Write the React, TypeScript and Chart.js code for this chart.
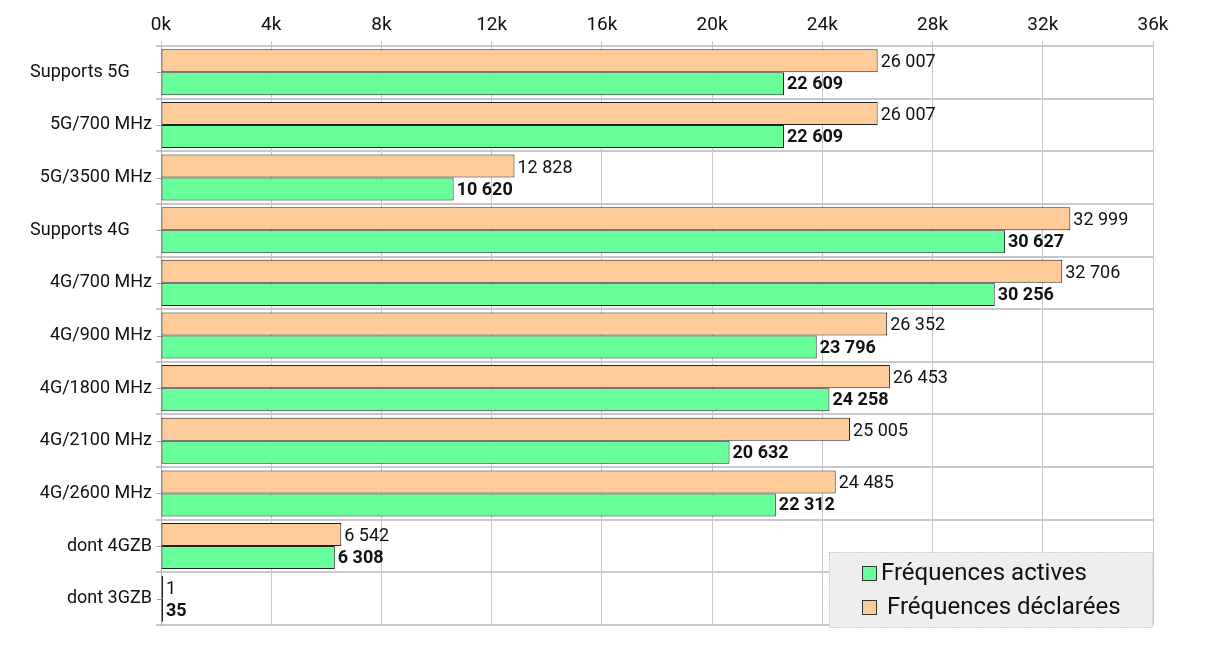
import React, { useEffect, useRef } from "react";
import { Chart, registerables } from "chart.js";

Chart.register(...registerables);

const categories = [
  "Supports 5G     ",
  "5G/700 MHz",
  "5G/3500 MHz",
  "Supports 4G     ",
  "4G/700 MHz",
  "4G/900 MHz",
  "4G/1800 MHz",
  "4G/2100 MHz",
  "4G/2600 MHz",
  "dont 4GZB",
  "dont 3GZB",
];

const declaredValues = [26007, 26007, 12828, 32999, 32706, 26352, 26453, 25005, 24485, 6542, 1];
const activeValues = [22609, 22609, 10620, 30627, 30256, 23796, 24258, 20632, 22312, 6308, 35];

const activeLabel = "Fréquences actives";
const declaredLabel = "Fréquences déclarées";

const xMin = 0;
const xMax = 36000;
const xStep = 4000;

const GREEN = "#66ff99";
const ORANGE = "#ffcc99";
const FONT = "Roboto, 'Noto Sans', sans-serif";

function fmt(v: number): string {
  return String(v).replace(/\B(?=(\d{3})+(?!\d))/g, " ");
}

const valueLabelsPlugin = {
  id: "valueLabels",
  afterDatasetsDraw(chart: any) {
    const ctx = chart.ctx;
    ctx.save();
    chart.data.datasets.forEach((ds: any, di: number) => {
      const meta = chart.getDatasetMeta(di);
      const bold = di === 1;
      ctx.font = (bold ? "bold " : "") + "18px " + FONT;
      ctx.fillStyle = "#111";
      ctx.textAlign = "left";
      ctx.textBaseline = "middle";
      meta.data.forEach((el: any, i: number) => {
        const v = ds.data[i];
        ctx.fillText(fmt(v), el.x + 3, el.y + (bold ? 1 : 2));
      });
    });
    ctx.restore();
  },
};

const yTickMarksPlugin = {
  id: "yTickMarks",
  afterDraw(chart: any) {
    const ctx = chart.ctx;
    const ys = chart.scales.y;
    ctx.save();
    ctx.strokeStyle = "#999";
    ctx.lineWidth = 1;
    ys.ticks.forEach((_t: any, i: number) => {
      const y = Math.round(ys.getPixelForTick(i)) + 0.5;
      ctx.beginPath();
      ctx.moveTo(ys.right - 4, y);
      ctx.lineTo(ys.right, y);
      ctx.stroke();
    });
    ctx.restore();
  },
};

const boxLegendPlugin = {
  id: "boxLegend",
  afterDraw(chart: any) {
    const ctx = chart.ctx;
    const a = chart.chartArea;
    const w = 324;
    const h = 76;
    const x = a.right - w;
    const y = a.bottom + 3 - h;
    ctx.save();
    ctx.fillStyle = "#eeeeee";
    ctx.fillRect(x, y, w, h);
    ctx.strokeStyle = "#b0b0b0";
    ctx.lineWidth = 1;
    ctx.setLineDash([1, 2]);
    ctx.strokeRect(x + 0.5, y + 0.5, w - 1, h - 1);
    ctx.setLineDash([]);
    const items = [
      { label: activeLabel, color: GREEN, tx: 52, cy: 21 },
      { label: declaredLabel, color: ORANGE, tx: 58, cy: 55 },
    ];
    ctx.font = "24px " + FONT;
    ctx.textBaseline = "middle";
    ctx.textAlign = "left";
    items.forEach((it) => {
      ctx.fillStyle = it.color;
      ctx.fillRect(x + 33, y + it.cy - 7, 14, 14);
      ctx.strokeStyle = "#333";
      ctx.strokeRect(x + 33.5, y + it.cy - 6.5, 14, 14);
      ctx.fillStyle = "#111";
      ctx.fillText(it.label, x + it.tx, y + it.cy + 1);
    });
    ctx.restore();
  },
};

export default function App() {
  const ref = useRef<HTMLCanvasElement | null>(null);
  useEffect(() => {
    document.body.style.margin = "0";
    const canvas = ref.current;
    if (!canvas) return;
    const chart = new Chart(canvas, {
      type: "bar",
      data: {
        labels: categories,
        datasets: [
          {
            label: declaredLabel,
            data: declaredValues,
            backgroundColor: ORANGE,
            borderColor: "#222",
            borderWidth: 1,
            borderSkipped: false,
            barPercentage: 1,
            categoryPercentage: 0.875,
            minBarLength: 2,
          },
          {
            label: activeLabel,
            data: activeValues,
            backgroundColor: GREEN,
            borderColor: "#222",
            borderWidth: 1,
            borderSkipped: false,
            barPercentage: 1,
            categoryPercentage: 0.875,
            minBarLength: 2,
          },
        ],
      },
      options: {
        indexAxis: "y",
        responsive: false,
        animation: false,
        devicePixelRatio: 1,
        layout: { padding: { top: 0, right: 58, bottom: 28, left: 0 } },
        plugins: {
          legend: { display: false },
          tooltip: { enabled: false },
        },
        scales: {
          x: {
            position: "top",
            min: xMin,
            max: xMax,
            ticks: {
              stepSize: xStep,
              font: { family: FONT, size: 19 },
              color: "#111",
              padding: 4,
              callback: (v: any) => Number(v) / 1000 + "k",
            },
            grid: { color: "#c8c8c8", lineWidth: 1, tickLength: 5 },
            border: { color: "#c8c8c8", width: 2 },
            afterFit: (s: any) => {
              s.height = 46;
            },
          },
          y: {
            ticks: {
              font: { family: FONT, size: 18 },
              color: "#111",
              padding: 4,
            },
            grid: { color: "#c8c8c8", lineWidth: 2, tickLength: 5, offset: true },
            border: { color: "#b0b0b0", width: 1 },
            afterFit: (s: any) => {
              s.width = 161;
            },
          },
        },
      },
      plugins: [valueLabelsPlugin, yTickMarksPlugin, boxLegendPlugin],
    } as any);
    return () => chart.destroy();
  }, []);
  return (
    <div style={{ width: 1211, height: 653 }}>
      <canvas ref={ref} width={1211} height={653} style={{ display: "block" }} />
    </div>
  );
}
